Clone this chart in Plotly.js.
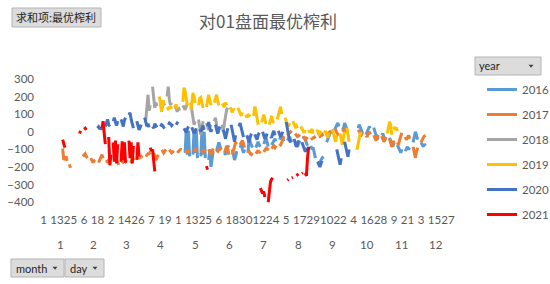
<!DOCTYPE html>
<html>
<head>
<meta charset="utf-8">
<script src="https://cdn.plot.ly/plotly-3.0.1.min.js"></script>
<style>html,body{margin:0;padding:0;background:#fff;}#chart{width:550px;height:284px;}</style>
</head>
<body>
<div id="chart"></div>
<script>
// ---- data (day-of-year category, values per consecutive day; each inner list = one run of days) ----
const years = ['2016', '2017', '2018', '2019', '2020', '2021'];
const colors = ['#5B9BD5', '#ED7D31', '#A5A5A5', '#FFC000', '#4472C4', '#FF0000'];

const y2016 = [
  [127,-120,10,-130,5,-140],[134,-130,15,-120,10,-150],[141,-140,10,-130,0,-150],
  [148,-160,-100,-200,-150,-110],[155,-110,-90,-60,-80,-100],[162,-120,-130,-100,-80,-90],
  [169,-100,-130,-160,-140,-110],[176,-90,-70,-100,-120,-100],[183,-120,-28,-60,-80,-90],
  [190,-90,-70,-57,-75,-85],[197,-70,-50,-34,-60,-85],[204,-75,-60,-50,-40,-55],
  [211,-45,-30,-20,-40,-55],[218,-50,-35,-28,-45,-60],[225,-60,-75,-85,-70,-50],
  [232,-40,-28,-45,-70,-80],[239,-80,-100,-90,-120,-150],[246,-165,-175,-160,-150,-140],
  [253,-60,-40,-20,-10,0],[260,10,25,40,50,30],[267,11,20,50,30,15],
  [281,20,40,25,5,-10],[288,-17,0,15,30,20],[295,23,0,-20,-45,-30],
  [302,-20,-10,-30,-40,-35],[309,-34,-50,-70,-85,-60],[316,-74,-90,-105,-119,-100],
  [323,-110,-95,-85,-100,-90],[330,-60,-30,0,-20,-45],[337,-60,-75,-85,-70,-80]
];
const y2017 = [
  [18,-95,-160,-150,-140,-165],[24,-185,-205],
  [36,-140,-130,-125,-140,-150],[43,-150,-160,-175,-165,-160],[50,-175,-160,-140,-130,-150],
  [57,-160,-176,-160,-150,-148],[64,-150,-145,-160,-180,-188],[71,-180,-165,-160,-170,-160],
  [78,-165,-170,-160,-155,-150],[85,-148,-150,-145,-140,-148],[92,-140,-130,-125,-120,-130],
  [99,-120,-140,-160,-150,-130],[106,-115,-110,-120,-105,-100],[113,-102,-110,-120,-115,-108],
  [120,-120,-110,-105,-100,-102],[127,-105,-110,-115,-112,-106],[134,-110,-105,-100,-108,-112],
  [141,-105,-110,-115,-108,-100],[148,-100,-120,-130,-115,-95],[155,-105,-110,-90,-100,-95],
  [162,-120,-100,-80,-95,-130],[169,-130,-110,-80,-60,-70],[176,-74,-60,-50,-70,-90],
  [183,-100,-115,-125,-130,-120],[190,-125,-115,-105,-120,-110],[197,-114,-100,-95,-105,-90],
  [204,-95,-85,-80,-90,-78],[211,-80,-74,-60,-40,-25],[218,-20,-15,-5,0,-6],
  [225,-10,-20,-28,-25,-15],[232,-25,-35,-45,-40,-30],[239,-45,-40,-35,-30,-38],
  [246,-30,-28,-20,-15,-25],[253,-20,-10,-5,0,-6],[260,5,10,-5,-15,-10],
  [267,0,10,15,5,-5],[281,10,0,-10,-17,-5],[288,-20,-30,-10,0,-15],
  [295,-20,-35,-50,-30,-17],[302,-25,-40,-57,-45,-30],[309,-40,-62,-85,-70,-50],
  [316,-60,-75,-45,-20,-6],[323,-30,-45,-34,-20,-40],[330,-85,-110,-148,-114,-90],
  [337,-60,-40,-34,-25,-20]
];
const y2018 = [
  [92,68,140,210,120,150],[98,256,190,136,165,145],[105,140,150,145,160,150],
  [111,200,256,180,153,165],[118,150,130,113,140,120],[125,150,140,125,145,160],
  [132,165,130,90,40,60],[139,70,28,-17,20,60],[146,50,30,10,25,40],
  [153,60,80,40,-10,20],[160,40,0,50,90,125,136]
];
const y2019 = [
  [104,200,170,113,150,180],[111,140,130,135,145,130],[118,140,155,130],
  [125,170,250,230,190,150],[132,125,160,220,200,165],[139,150,190,195,160,135],
  [146,140,170,210,180,150],[153,165,190,210,175,150],[160,160,145,140,165,150],
  [167,140,125,110,130,120],[174,136,120,100,90,110],[181,95,80,100,90,85],
  [188,90,142,120,60,40],[195,55,70,97,60,45],[202,40,70,90,60,50],
  [209,70,95,120,142,100],[216,80,57,40,30,50],[223,60,40,28,35,20],
  [230,30,20,5,-6,10],[237,10,-5,5,15,-10],[244,0,10,-20,-5,5],
  [251,-10,5,-20,-34,-5],[258,15,-10,-30,-57,-20],[265,-10,-40,-74,-30,0],
  [271,23,-20,-57],[280,-102,-70,-30,-6,-15],[307,-10,20,57,40,-17],[313,30,10,25,5]
];
const y2020 = [
  [49,20,28,15,25,10],[56,30,50,70,40,30],[63,60,80,55,35,60],[70,70,45,30,65,80],
  [77,95,108,70,40,20],[84,60,30,10,25,40],[91,80,60,30,45,25],[98,30,20,45,35,25],
  [105,30,40,35,25,30],[112,40,50,45,35,45],[119,40,50,45],[126,20,10,-5,15,30],
  [133,25,10,-10,5,20],[140,15,0,20,35,10],[147,30,55,20,0,15],[154,40,20,-10,10,30],
  [161,10,-20,-40,-10,20],[168,40,10,-30,-57,-20],[175,30,50,20,-10,-30],
  [182,-20,-40,-60,-30,-10],[189,-15,-30,-45,-20,-5],[196,0,-20,-40,-30,-10],
  [203,-25,-34,-10,5,-20],[210,5,-10,-30,-15,0],[217,55,10,-30,-50,-60],
  [224,-40,-60,-85,-70,-50],[231,-60,-80,-100,-114,-90],[245,-170,-185,-200,-180,-165],
  [262,-100,-130,-160,-187,-150],[269,-57,-90,-120,-142,-100]
];
const y2021 = [
  [18,-45,-65,-90],[33,-10,5],[37,15,20,10],[53,20,60,-10,-70],[59,-30,-190,-130],
  [63,-60,-170,-50,-180,-70],[70,-170,-55,-160,-60,-175],[77,-50,-150,-60,-180,-80],
  [84,-160,-60,-140],[96,-90,-110,-100,-170,-225],[146,-195,-215],
  [194,-320,-335,-350,-340,-370],[201,-400,-330,-285,-270,-261],
  [218,-275,-270],[222,-262,-258],[226,-248,-244,-240],[231,-238,-233],[234,-235,-250,-150,-85]
];
const seriesRuns = [y2016, y2017, y2018, y2019, y2020, y2021];

// x-axis labels (month / day categories shown)
const tickMonth = [1,1,1,2,2,3,3,3,4,4,5,5,5,6,6,6,7,7,8,8,8,9,9,10,10,10,11,11,12,12,12];
const tickDay   = [1,13,25,6,18,2,14,26,7,19,1,13,25,6,18,30,12,24,5,17,29,10,22,4,16,28,9,21,3,15,27];
const monthNames = ['1','2','3','4','5','6','7','8','9','10','11','12'];
const monthLen = [31,28,31,30,31,30,31,31,30,31,30,31];

// ---- build ----
const monthStart = [];
let acc = 0;
for (const n of monthLen) { monthStart.push(acc); acc += n; }
const dayOf = (m, d) => monthStart[m - 1] + d;

const traces = seriesRuns.map((runs, k) => {
  const xs = [], ys = [];
  runs.forEach(run => {
    const start = run[0];
    run.slice(1).forEach((v, i) => { xs.push(start + i); ys.push(v); });
    xs.push(start + run.length - 1); ys.push(null);
  });
  return {
    type: 'scatter', mode: 'lines', name: years[k], x: xs, y: ys,
    connectgaps: false, legendgroup: years[k],
    line: { color: colors[k], width: 3 },
    hoverinfo: 'skip'
  };
});

const ML = 43, MR = 97, MT = 78, MB = 80, PW = 550 - ML - MR, PH = 284 - MT - MB;
const px2x = px => (px - ML) / PW;
const py2y = py => 1 - (py - MT) / PH;

const shapes = [];
const annotations = [];
function button(x0, x1, y0, y1, label, tx, arrowX, fam) {
  shapes.push({ type: 'rect', xref: 'paper', yref: 'paper', x0: px2x(x0), x1: px2x(x1), y0: py2y(y1), y1: py2y(y0),
    fillcolor: '#DCDCDC', line: { color: '#B4B4B4', width: 1 }, layer: 'above' });
  annotations.push({ xref: 'paper', yref: 'paper', x: px2x(tx), y: py2y((y0 + y1) / 2), xanchor: 'left', yanchor: 'middle',
    text: label, showarrow: false, font: { family: fam, size: 11, color: '#262626' } });
  if (arrowX !== null) {
    const cy = (y0 + y1) / 2;
    const p = `M${px2x(arrowX - 2.5)},${py2y(cy - 1.2)} L${px2x(arrowX + 2.5)},${py2y(cy - 1.2)} L${px2x(arrowX)},${py2y(cy + 1.8)} Z`;
    shapes.push({ type: 'path', xref: 'paper', yref: 'paper', path: p, fillcolor: '#404040', line: { width: 0 }, layer: 'above' });
  }
}
button(12, 101, 8, 27, '求和项:最优榨利', 14, null, 'Noto Sans CJK SC, sans-serif');
button(475, 541, 57, 75, 'year', 477, 531, 'Lato, sans-serif');
button(11, 64, 259, 277, 'month', 14, 55, 'Lato, sans-serif');
button(65, 104, 259, 277, 'day', 68, 95, 'Lato, sans-serif');

monthNames.forEach((m, i) => {
  annotations.push({ xref: 'x', yref: 'paper', x: monthStart[i] + (monthLen[i] + 1) / 2, y: py2y(244.6),
    xanchor: 'center', yanchor: 'middle', text: m, showarrow: false,
    font: { family: 'Lato, sans-serif', size: 11.5, color: '#595959' } });
});

const layout = {
  width: 550, height: 284,
  margin: { l: ML, r: MR, t: MT, b: MB, pad: 0, autoexpand: false },
  paper_bgcolor: '#ffffff', plot_bgcolor: '#ffffff',
  title: { text: '对01盘面最优榨利', x: 268 / 550, xref: 'container', xanchor: 'center',
    y: 1 - 22 / 284, yref: 'container', yanchor: 'middle',
    font: { family: 'Noto Sans CJK SC, sans-serif', size: 17, color: '#595959' } },
  xaxis: {
    range: [0.5, 365.5], tickmode: 'array',
    tickvals: tickMonth.map((m, i) => dayOf(m, tickDay[i])),
    ticktext: tickDay.map(String), tickangle: 0,
    showgrid: false, zeroline: false, showline: false, ticks: '',
    ticklabelstandoff: 7, automargin: false,
    tickfont: { family: 'Lato, sans-serif', size: 11.5, color: '#595959' }, fixedrange: true
  },
  yaxis: {
    range: [-410, 305], tickmode: 'array', tickvals: [-400,-300,-200,-100,0,100,200,300],
    showgrid: false, zeroline: false, showline: false, ticks: '',
    ticklabelstandoff: 8, automargin: false,
    tickfont: { family: 'Lato, sans-serif', size: 11.5, color: '#595959' }, fixedrange: true
  },
  showlegend: true,
  legend: {
    x: px2x(482), xanchor: 'left', y: py2y(75), yanchor: 'top',
    traceorder: 'grouped', tracegroupgap: 6, itemwidth: 30, maxheight: 270,
    font: { family: 'Lato, sans-serif', size: 11.5, color: '#595959' },
    bgcolor: 'rgba(0,0,0,0)'
  },
  shapes: shapes, annotations: annotations
};

Plotly.newPlot('chart', traces, layout, { displayModeBar: false, staticPlot: true });
</script>
</body>
</html>
